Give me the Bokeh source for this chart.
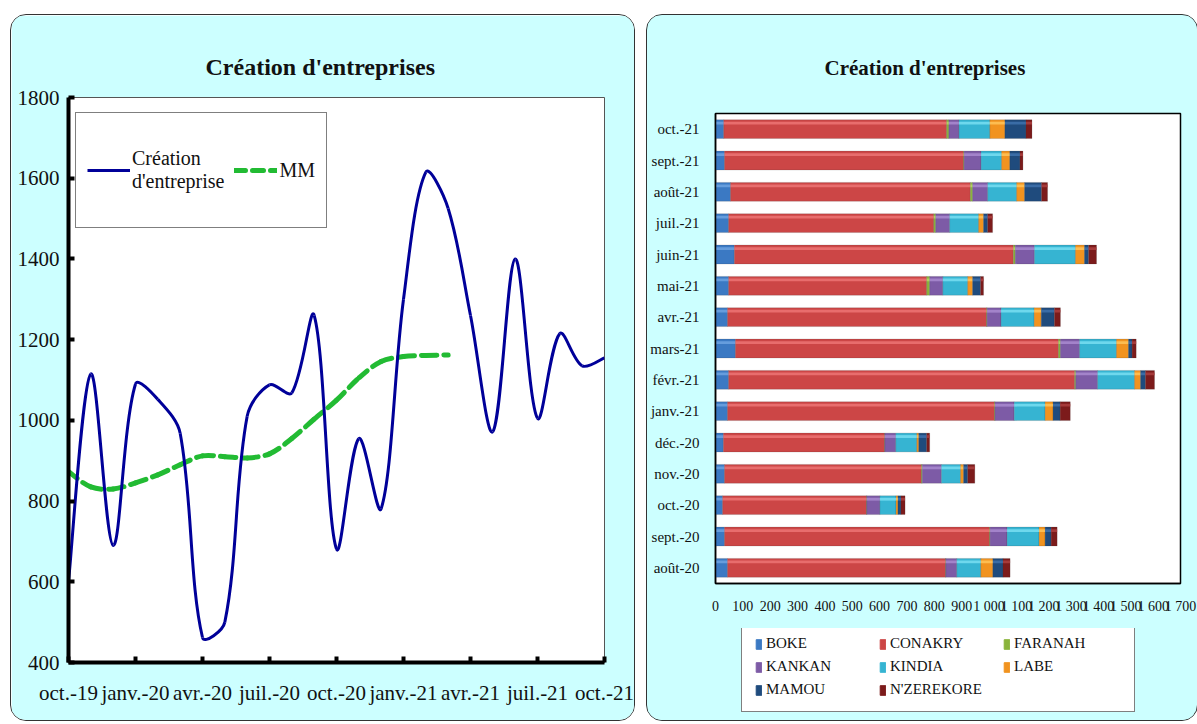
import numpy as np
from bokeh.plotting import figure
from bokeh.models import (ColumnDataSource, FactorRange, Range1d, Legend, LegendItem,
                          FixedTicker, Spacer, Title)
from bokeh.transform import dodge
from bokeh.layouts import row, column
from bokeh.embed import file_html
from bokeh.resources import INLINE

# ---------------- data ----------------
months = ["oct.-19", "nov.-19", "déc.-19", "janv.-20", "févr.-20", "mars-20", "avr.-20",
          "mai-20", "juin-20", "juil.-20", "août-20", "sept.-20", "oct.-20", "nov.-20",
          "déc.-20", "janv.-21", "févr.-21", "mars-21", "avr.-21", "mai-21", "juin-21",
          "juil.-21", "août-21", "sept.-21", "oct.-21"]
creation = [600, 1115, 690, 1090, 1052, 968, 462, 500, 1010, 1088, 1068, 1260, 681, 955,
            781, 1300, 1615, 1525, 1260, 972, 1400, 1005, 1215, 1135, 1155]
mm = [873, 835, 830, 845, 865, 890, 912, 910, 907, 917, 955, 1003, 1050, 1105, 1146,
      1158, 1161, 1162]
x_tick_labels = ["oct.-19", "janv.-20", "avr.-20", "juil.-20", "oct.-20", "janv.-21",
                 "avr.-21", "juil.-21", "oct.-21"]

bar_months = ["août-20", "sept.-20", "oct.-20", "nov.-20", "déc.-20", "janv.-21", "févr.-21",
              "mars-21", "avr.-21", "mai-21", "juin-21", "juil.-21", "août-21", "sept.-21",
              "oct.-21"]
regions = ["BOKE", "CONAKRY", "FARANAH", "KANKAN", "KINDIA", "LABE", "MAMOU", "N'ZEREKORE"]
boke = [44, 33, 26, 33, 29, 44, 48, 73, 44, 48, 69, 48, 55, 33, 30]
conakry = [797, 969, 526, 720, 589, 976, 1265, 1181, 947, 724, 1020, 750, 877, 874, 815]
faranah = [1, 2, 1, 3, 1, 2, 4, 7, 2, 11, 7, 7, 8, 2, 8]
kankan = [40, 62, 48, 70, 40, 70, 80, 70, 51, 48, 70, 51, 55, 62, 37]
kindia = [88, 117, 59, 70, 77, 113, 135, 135, 121, 91, 150, 106, 106, 75, 113]
labe = [44, 22, 7, 11, 7, 29, 22, 44, 26, 18, 33, 18, 29, 30, 55]
mamou = [37, 22, 11, 15, 29, 26, 18, 13, 48, 29, 15, 15, 62, 37, 77]
nzerekore = [26, 22, 15, 26, 11, 37, 33, 15, 22, 11, 29, 18, 22, 11, 22]
bar_ticks = list(range(0, 1800, 100))

colors = ["#3b79c3", "#cc4646", "#8ab43c", "#7d5ba6", "#36b4d2", "#f1931f", "#1f4b7d", "#7c1b1b"]
light = ["#6fa3e2", "#ec7474", "#b4da66", "#a98bd0", "#78def2", "#ffc45a", "#3f72ad", "#ad4040"]
PANEL = "#ccffff"
FONT = "Liberation Serif"

# left plot frame geometry (used for the screen-space smoothing weights)
FW, FH = 534, 563
YMIN, YMAX = 400, 1800


def bezier_source(xs, ys, sx, sy):
    """Excel-like smoothing: cubic Bezier segments between consecutive data points,
    tangents weighted by on-screen chord lengths (sx, sy: pixels per data unit)."""
    pts = [(x, y) for x, y in zip(xs, ys) if y is not None]
    n = len(pts)

    def dist(a, b):
        return np.hypot((a[0] - b[0]) * sx, (a[1] - b[1]) * sy)

    d = dict(x0=[], y0=[], x1=[], y1=[], cx0=[], cy0=[], cx1=[], cy1=[])
    for i in range(n - 1):
        p0 = pts[i - 1] if i > 0 else pts[i]
        p1 = pts[i]
        p2 = pts[i + 1]
        p3 = pts[i + 2] if i + 2 < n else pts[i + 1]
        d01, d12, d23 = dist(p0, p1), dist(p1, p2), dist(p2, p3)
        f1 = d12 / (d01 + d12) / 3.0 if d01 > 0 else 1 / 6.0
        f2 = d12 / (d12 + d23) / 3.0 if d23 > 0 else 1 / 6.0
        d["x0"].append(p1[0]); d["y0"].append(p1[1])
        d["x1"].append(p2[0]); d["y1"].append(p2[1])
        d["cx0"].append(p1[0] + (p2[0] - p0[0]) * f1)
        d["cy0"].append(p1[1] + (p2[1] - p0[1]) * f1)
        d["cx1"].append(p2[0] - (p3[0] - p1[0]) * f2)
        d["cy1"].append(p2[1] - (p3[1] - p1[1]) * f2)
    return ColumnDataSource(d)


panel_style = {"border": "1px solid #333", "border-radius": "16px", "overflow": "hidden"}

# ---------------- left chart ----------------
idx = list(range(len(months)))
p1 = figure(frame_width=FW, frame_height=FH, min_border_left=57, min_border_right=32,
            min_border_top=82, min_border_bottom=60,
            x_range=Range1d(0, len(months) - 1), y_range=Range1d(YMIN, YMAX),
            output_backend="svg", toolbar_location=None,
            background_fill_color="white", border_fill_color=PANEL,
            outline_line_color="#555555", outline_line_width=1, styles=panel_style)
p1.title = Title(text="Création d'entreprises", align="left", text_font=FONT,
                 text_font_size="24px", text_font_style="bold", text_color="#111111",
                 offset=137, standoff=36)
p1.grid.visible = False

sx = FW / (len(months) - 1)
sy = FH / (YMAX - YMIN)
s_creation = bezier_source(idx, creation, sx, sy)
s_mm = bezier_source(idx[:len(mm)], mm, sx, sy)
p1.bezier("x0", "y0", "x1", "y1", "cx0", "cy0", "cx1", "cy1", source=s_mm,
          line_color="#22bb33", line_width=5, line_dash="11 7", line_cap="round")
p1.bezier("x0", "y0", "x1", "y1", "cx0", "cy0", "cx1", "cy1", source=s_creation,
          line_color="#000099", line_width=3)
# legend proxies (no visible data)
leg_c = p1.line(x=[0, 1], y=[np.nan, np.nan], line_color="#000099", line_width=3)
leg_m = p1.line(x=[0, 1], y=[np.nan, np.nan], line_color="#22bb33", line_width=5,
                line_dash="11 7", line_cap="round")

leg1 = Legend(items=[LegendItem(label="Création\nd'entreprise", renderers=[leg_c]),
                     LegendItem(label="MM", renderers=[leg_m])],
              orientation="horizontal", location=(7, 434),
              label_text_font=FONT, label_text_font_size="20px", label_text_color="#111",
              glyph_width=43, glyph_height=92, label_standoff=2, spacing=10,
              padding=11, margin=0, border_line_color="black", border_line_width=1.5,
              background_fill_color="white", background_fill_alpha=1)
p1.add_layout(leg1)

for ax in (p1.xaxis[0], p1.yaxis[0]):
    ax.axis_line_width = 4
    ax.axis_line_color = "black"
    ax.major_tick_line_width = 4
    ax.major_tick_line_color = "black"
    ax.major_tick_in = 6
    ax.major_tick_out = 0
    ax.minor_tick_line_color = None
    ax.major_label_text_font = FONT
    ax.major_label_text_font_size = "21px"
    ax.major_label_text_color = "#111"
p1.yaxis.ticker = FixedTicker(ticks=list(range(400, 1801, 200)))
p1.yaxis.major_label_standoff = 9
xt = list(range(0, len(months), 3))
p1.xaxis.ticker = FixedTicker(ticks=xt)
p1.xaxis.major_label_overrides = {t: lab for t, lab in zip(xt, x_tick_labels)}
p1.xaxis.major_label_standoff = 18

# ---------------- right chart ----------------
src = ColumnDataSource(dict(month=bar_months, BOKE=boke, CONAKRY=conakry, FARANAH=faranah,
                            KANKAN=kankan, KINDIA=kindia, LABE=labe, MAMOU=mamou,
                            **{"N'ZEREKORE": nzerekore}))
p2 = figure(frame_width=465, frame_height=470, min_border_left=65, min_border_right=17,
            min_border_top=98, min_border_bottom=45,
            y_range=FactorRange(*bar_months, range_padding=0), x_range=Range1d(0, 1700),
            output_backend="svg", toolbar_location=None,
            background_fill_color="white", border_fill_color=PANEL,
            outline_line_color="black", outline_line_width=1.5)
p2.title = Title(text="Création d'entreprises", align="left", text_font=FONT,
                 text_font_size="21px", text_font_style="bold", text_color="#111111",
                 offset=109, standoff=68)
p2.grid.visible = False

rs = p2.hbar_stack(regions, y="month", height=0.6, color=colors, source=src,
                   line_color="#333333", line_alpha=0.35, line_width=0.5)
# bevel highlight on the upper part of each bar
p2.hbar_stack(regions, y=dodge("month", 0.19, range=p2.y_range), height=0.09, color=light,
              source=src, line_color=None, fill_alpha=0.85)

p2.xaxis.ticker = FixedTicker(ticks=bar_ticks)
p2.xaxis.major_label_overrides = {t: (f"{t // 1000} {t % 1000:03d}" if t >= 1000 else str(t))
                                  for t in bar_ticks}
for ax in (p2.xaxis[0], p2.yaxis[0]):
    ax.axis_line_color = "black"
    ax.axis_line_width = 1.5
    ax.major_tick_line_color = None
    ax.minor_tick_line_color = None
    ax.major_label_text_font = FONT
    ax.major_label_text_color = "#111"
p2.yaxis.major_label_text_font_size = "15px"
p2.xaxis.major_label_text_font_size = "14px"
p2.xaxis.major_label_standoff = 9
p2.yaxis.major_label_standoff = 10

# legend strip of the right panel (a frame-only figure holding the legend)
legfig = figure(width=547, height=92, min_border=0, x_range=Range1d(0, 1),
                y_range=Range1d(0, 1), x_axis_location=None, y_axis_location=None,
                output_backend="svg", toolbar_location=None,
                background_fill_color=PANEL, border_fill_color=PANEL, outline_line_color=None)
legfig.grid.visible = False
proxies = [legfig.hbar(y=[np.nan], left=[np.nan], right=[np.nan], height=0.5,
                       color=c) for c in colors]
leg2 = Legend(items=[LegendItem(label=r, renderers=[pr]) for r, pr in zip(regions, proxies)],
              ncols=3, location=(26, 8), orientation="horizontal",
              label_text_font=FONT, label_text_font_size="15px", label_text_color="#111",
              glyph_width=7, glyph_height=12, label_standoff=4, spacing=6,
              label_width=107, label_height=16,
              padding=13, margin=0,
              border_line_color="black", border_line_width=1,
              background_fill_color="white", background_fill_alpha=1)
legfig.add_layout(leg2)

right_panel = column(p2, legfig, spacing=0,
                     styles=dict(panel_style, **{"background-color": PANEL}))

layout = row(Spacer(width=10),
             column(Spacer(height=14), p1), Spacer(width=11),
             column(Spacer(height=14), right_panel))
open("out.html", "w").write(file_html(layout, INLINE))
